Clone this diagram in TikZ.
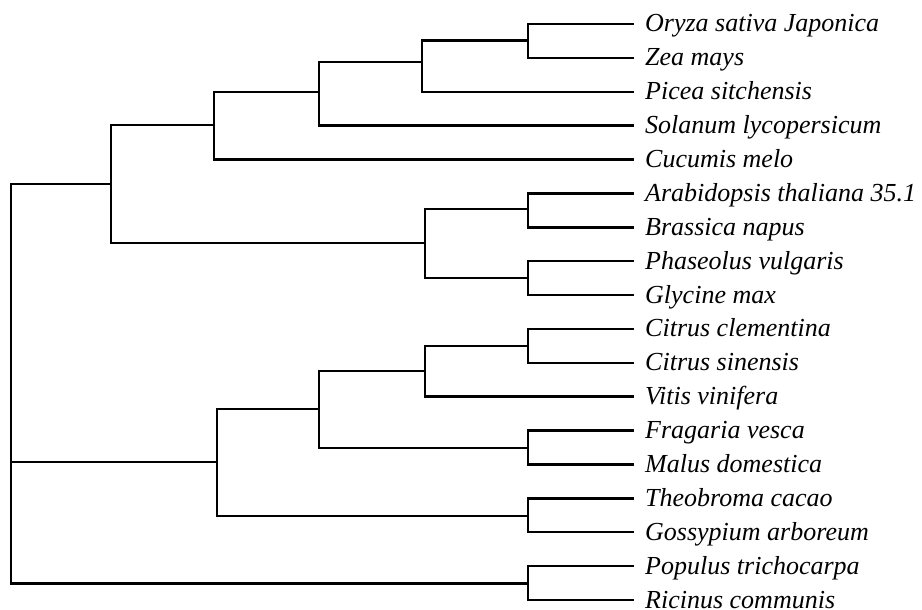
\documentclass[tikz,border=0pt]{standalone}
\usepackage{fontspec}
\setmainfont{Liberation Serif}
\begin{document}
\begin{tikzpicture}[x=1pt,y=-1pt,
  branch/.style={line width=2.5pt, line join=miter, line cap=rect},
  taxon/.style={anchor=base west, inner sep=0pt, font=\fontsize{26}{30}\selectfont\itshape}]
\useasboundingbox (0,0) rectangle (922,610);

% leaf tips and their labels
\foreach \nm/\yy/\txt in {
  la/24.0/Oryza sativa Japonica,
  lb/57.9/Zea mays,
  lc/91.8/Picea sitchensis,
  ld/125.6/Solanum lycopersicum,
  le/159.5/Cucumis melo,
  lf/193.4/Arabidopsis thaliana 35.1,
  lg/227.3/Brassica napus,
  lh/261.2/Phaseolus vulgaris,
  li/295.0/Glycine max,
  lj/328.9/Citrus clementina,
  lk/362.8/Citrus sinensis,
  ll/396.7/Vitis vinifera,
  lm/430.6/Fragaria vesca,
  ln/464.4/Malus domestica,
  lo/498.3/Theobroma cacao,
  lp/532.2/Gossypium arboreum,
  lq/566.1/Populus trichocarpa,
  lr/600.0/Ricinus communis}{
  \coordinate (\nm) at (633,\yy);
  \node[taxon] (\nm-txt) at (645,\yy+8) {\txt};
}

% internal nodes
\coordinate (n1)  at (528,40.5);
\coordinate (n2)  at (422,62);
\coordinate (n3)  at (319,92);
\coordinate (n4)  at (214,125);
\coordinate (n5)  at (528,209);
\coordinate (n6)  at (528,278);
\coordinate (n7)  at (425,243);
\coordinate (n8)  at (111,184);
\coordinate (n9)  at (528,346);
\coordinate (n10) at (425,371);
\coordinate (n11) at (528,448);
\coordinate (n12) at (319,409);
\coordinate (n13) at (528,516);
\coordinate (n14) at (217,462);
\coordinate (n15) at (528,583.5);
\coordinate (root) at (11,384);

% branches
\draw[branch] (n1) |- (la) (n1) |- (lb);
\draw[branch] (n2) |- (n1) (n2) |- (lc);
\draw[branch] (n3) |- (n2) (n3) |- (ld);
\draw[branch] (n4) |- (n3) (n4) |- (le);
\draw[branch] (n5) |- (lf) (n5) |- (lg);
\draw[branch] (n6) |- (lh) (n6) |- (li);
\draw[branch] (n7) |- (n5) (n7) |- (n6);
\draw[branch] (n8) |- (n4) (n8) |- (n7);
\draw[branch] (n9) |- (lj) (n9) |- (lk);
\draw[branch] (n10) |- (n9) (n10) |- (ll);
\draw[branch] (n11) |- (lm) (n11) |- (ln);
\draw[branch] (n12) |- (n10) (n12) |- (n11);
\draw[branch] (n13) |- (lo) (n13) |- (lp);
\draw[branch] (n14) |- (n12) (n14) |- (n13);
\draw[branch] (n15) |- (lq) (n15) |- (lr);
\draw[branch] (root) |- (n8) (root) |- (n14) (root) |- (n15);
\end{tikzpicture}
\end{document}
